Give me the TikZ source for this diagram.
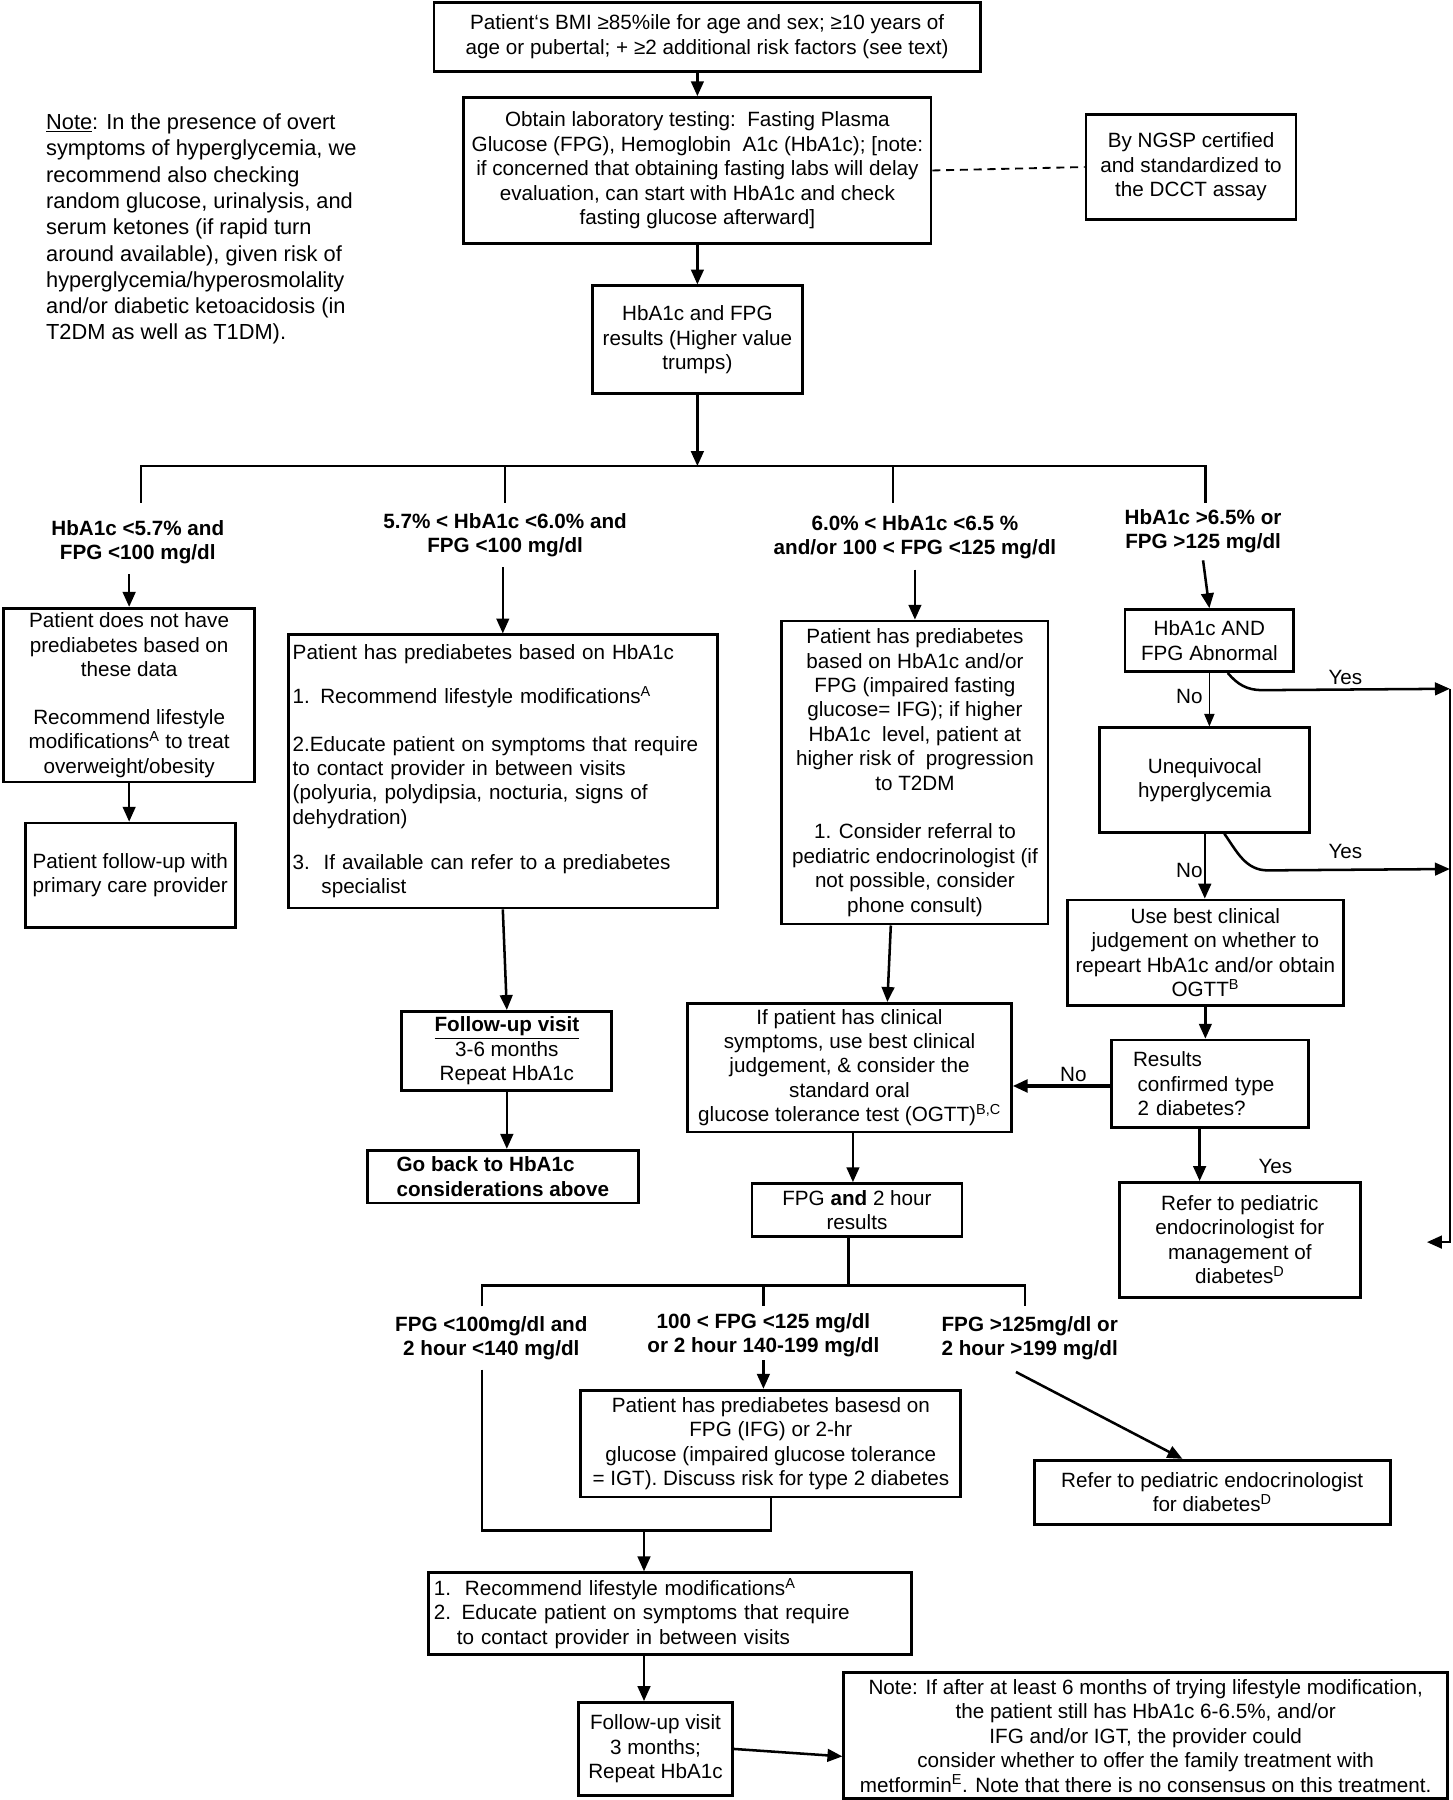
\documentclass[tikz,border=0pt]{standalone}
\usepackage{fontspec}
\setmainfont{Liberation Sans}
\usetikzlibrary{arrows.meta}
\newcommand{\bxfont}{\fontsize{18}{21.3}\selectfont}
\newcommand{\lbfont}{\fontsize{18}{21}\selectfont\bfseries}
\newcommand{\ntfont}{\fontsize{19}{22.9}\selectfont}
\tikzset{
  box/.style={draw, line width=2.4pt, inner sep=4pt, font=\bxfont, align=center},
  lbl/.style={font=\lbfont, align=center, inner sep=0pt},
  ans/.style={font=\bxfont, inner sep=0pt},
  conn/.style={line width=2.2pt},
  arr/.style={conn, -{Triangle[length=13pt,width=11pt]}},
  thin arr/.style={line width=1pt, -{Triangle[length=11pt,width=9pt]}}
}
\begin{document}
\begin{tikzpicture}[x=1pt,y=-1pt]
\useasboundingbox (0,0) rectangle (1265,1568);

\node[anchor=north west, font=\ntfont, align=left, inner sep=0pt] (note) at (40,99)
  {\underline{Note}: In the presence of overt\\symptoms of hyperglycemia, we\\recommend also checking\\random glucose, urinalysis, and\\serum ketones (if rapid turn\\around available), given risk of\\hyperglycemia/hyperosmolality\\and/or diabetic ketoacidosis (in\\T2DM as well as T1DM).};

\node[box, minimum width=476pt, minimum height=60pt] (bmi) at (616,32)
  {Patient‘s BMI ≥85\%ile for age and sex; ≥10 years of\\age or pubertal; + ≥2 additional risk factors (see text)};
\node[box, minimum width=407pt, minimum height=127pt] (lab) at (607.5,148.5)
  {Obtain laboratory testing:\ \ Fasting Plasma\\Glucose (FPG), Hemoglobin\ \ A1c (HbA1c); [note:\\if concerned that obtaining fasting labs will delay\\evaluation, can start with HbA1c and check\\fasting glucose afterward]};
\node[box, minimum width=183pt, minimum height=91pt] (ngsp) at (1037.5,145.5)
  {By NGSP certified\\and standardized to\\the DCCT assay};
\node[box, minimum width=183pt, minimum height=94pt] (res) at (607.5,296)
  {HbA1c and FPG\\results (Higher value\\trumps)};

\node[lbl] (L1) at (120,472) {HbA1c <5.7\% and\\FPG <100 mg/dl};
\node[lbl] (L2) at (440,466) {5.7\% < HbA1c <6.0\% and\\FPG <100 mg/dl};
\node[lbl] (L3) at (797,468) {6.0\% < HbA1c <6.5 \%\\and/or 100 < FPG <125 mg/dl};
\node[lbl] (L4) at (1048,463) {HbA1c >6.5\% or\\FPG >125 mg/dl};

\node[box, minimum width=219pt, minimum height=151pt] (nopre) at (112.5,605.5)
  {Patient does not have\\prediabetes based on\\these data\\[20pt]Recommend lifestyle\\modifications\textsuperscript{A} to treat\\overweight/obesity};
\node[box, minimum width=183pt, minimum height=91pt] (pcp) at (113.5,762.5)
  {Patient follow-up with\\primary care provider};
\node[box, align=left, text width=366pt, minimum height=238pt] (prea1c) at (438,672)
  {Patient has prediabetes based on HbA1c\\[17pt]1. Recommend lifestyle modifications\textsuperscript{A}\\[20pt]2.Educate patient on symptoms that require\\to contact provider in between visits\\(polyuria, polydipsia, nocturia, signs of\\dehydration)\\[18pt]3.\ \ If available can refer to a prediabetes\\\hspace*{25pt}specialist};
\node[box, minimum width=183pt, minimum height=69pt] (fuA) at (441.5,915.5)
  {\textbf{\underline{Follow-up visit}}\\3-6 months\\Repeat HbA1c};
\node[box, align=left, font=\bxfont\bfseries, minimum width=236pt, minimum height=46pt] (back) at (438,1025)
  {Go back to HbA1c\\considerations above};

\node[box, minimum width=232pt, minimum height=264pt] (pre2) at (797,673)
  {Patient has prediabetes\\based on HbA1c and/or\\FPG (impaired fasting\\glucose= IFG); if higher\\HbA1c\ \ level, patient at\\higher risk of\ \ progression\\to T2DM\\[21pt]1. Consider referral to\\pediatric endocrinologist (if\\not possible, consider\\phone consult)};
\node[box, minimum width=282pt, minimum height=112pt] (ogtt) at (740,930)
  {If patient has clinical\\symptoms, use best clinical\\judgement, \& consider the\\standard oral\\glucose tolerance test (OGTT)\textsuperscript{B,C}};

\node[box, minimum width=147pt, minimum height=54pt] (abn) at (1053.5,558)
  {HbA1c AND\\FPG Abnormal};
\node[box, minimum width=183pt, minimum height=91pt] (uneq) at (1049.5,679.5)
  {Unequivocal\\hyperglycemia};
\node[box, minimum width=240pt, minimum height=92pt, inner sep=2pt] (judge) at (1050,830)
  {Use best clinical\\judgement on whether to\\repeart HbA1c and/or obtain\\OGTT\textsuperscript{B}};
\node[box, align=left, text width=134pt, inner xsep=19pt, minimum height=76pt] (conf) at (1054,944)
  {Results\\\hspace*{4pt}confirmed type\\\hspace*{4pt}2 diabetes?};
\node[box, minimum width=210pt, minimum height=100pt] (refer) at (1080,1080)
  {Refer to pediatric\\endocrinologist for\\management of\\diabetes\textsuperscript{D}};

\node[box, minimum width=183pt, minimum height=46pt] (fpg2) at (746.5,1054)
  {FPG \textbf{and} 2 hour\\results};
\node[lbl] (M1) at (428,1166) {FPG <100mg/dl and\\2 hour <140 mg/dl};
\node[lbl] (M2) at (665,1163) {100 < FPG <125 mg/dl\\or 2 hour 140-199 mg/dl};
\node[lbl] (M3) at (897,1166) {FPG >125mg/dl or\\2 hour >199 mg/dl};
\node[box, minimum width=331pt, minimum height=93pt] (preFPG) at (671.5,1257.5)
  {Patient has prediabetes basesd on\\FPG (IFG) or 2-hr\\glucose (impaired glucose tolerance\\= IGT). Discuss risk for type 2 diabetes};
\node[box, minimum width=310pt, minimum height=56pt] (refdiab) at (1056,1300)
  {Refer to pediatric endocrinologist\\for diabetes\textsuperscript{D}};
\node[box, align=left, text width=411pt, inner xsep=5pt, minimum height=71pt] (life) at (583.5,1405.5)
  {1.\ \ Recommend lifestyle modifications\textsuperscript{A}\\2. Educate patient on symptoms that require\\\hspace*{20pt}to contact provider in between visits};
\node[box, minimum width=134pt, minimum height=81pt] (fuB) at (571,1523.5)
  {Follow-up visit\\3 months;\\Repeat HbA1c};
\node[box, minimum width=526pt, minimum height=110pt] (metf) at (998,1512)
  {Note: If after at least 6 months of trying lifestyle modification,\\the patient still has HbA1c 6-6.5\%, and/or\\IFG and/or IGT, the provider could\\consider whether to offer the family treatment with\\metformin\textsuperscript{E}. Note that there is no consensus on this treatment.};

\node[ans] (yesA) at (1172,590) {Yes};
\node[ans] (noA) at (1036,607) {No};
\node[ans] (yesB) at (1172,742) {Yes};
\node[ans] (noB) at (1036,758) {No};
\node[ans] (noC) at (935,936) {No};
\node[ans] (yesC) at (1111,1016) {Yes};

\coordinate (hub) at (607.5,406);
\coordinate (hA) at (123,406);
\coordinate (hB) at (440,406);
\coordinate (hC) at (778,406);
\coordinate (hD) at (1050,406);
\coordinate (rA) at (1263,600);
\coordinate (rB) at (1263,757);
\coordinate (rtn) at (1243,1082);
\coordinate (kA) at (420,1120);
\coordinate (kB) at (665,1120);
\coordinate (kC) at (893,1120);
\coordinate (jn) at (671.5,1333);
\coordinate (jx) at (561,1333);

\draw[arr] (bmi.south -| lab.north) -- (lab.north);
\draw[dashed, dash pattern=on 7pt off 5pt, line width=1.6pt] (lab.east) -- (ngsp.west);
\draw[arr] (lab) -- (res);
\draw[arr] (res) -- (hub);
\draw[conn] ([yshift=-32pt]hA) -- (hA) -- (hD) -- ([yshift=-32pt]hD);
\foreach \c in {hB,hC} \draw[conn] (\c) -- ++(0,32);

\draw[arr] ([yshift=-9pt]L1.south -| nopre.north) -- (nopre.north);
\draw[arr] ([yshift=-9pt]L2.south -| prea1c.north) -- (prea1c.north);
\draw[arr] ([yshift=-9pt]L3.south) -- (L3.south |- pre2.north);
\draw[arr] ([yshift=-6pt]L4.south) -- (abn.north);

\draw[arr] (nopre) -- (nopre |- pcp.north);
\draw[arr] (prea1c.south) -- (fuA.north);
\draw[arr] (fuA) -- (fuA |- back.north);
\draw[arr] ([xshift=-21pt]pre2.south) -- ([xshift=33pt]ogtt.north);
\draw[arr] ([xshift=3pt]ogtt.south) -- ([xshift=-3.5pt]fpg2.north);

\draw[thin arr] (abn.south) -- (abn.south |- uneq.north);
\draw[arr] ([xshift=16pt]abn.south) to[out=-50,in=180] ++(30,15) -- (rA);
\draw[arr] ([xshift=17pt]uneq.south) to[out=-55,in=180] ++(38,32) -- (rB);
\draw[arr] (rA) |- (rtn);
\draw[arr] (uneq.south) -- (uneq.south |- judge.north);
\draw[arr] (judge.south) -- (judge.south |- conf.north);
\draw[arr, line width=3pt] ([yshift=-2pt]conf.west) -- ([yshift=-2pt]conf.west -| ogtt.east);
\draw[arr] ([xshift=-9pt]conf.south) -- ([xshift=-9pt]conf.south |- refer.north);

\draw[conn] ([xshift=-7.5pt]fpg2.south) -- ([xshift=-7.5pt]fpg2.south |- kA);
\draw[conn] ([yshift=-18pt]kA) -- (kA) -- (kC) -- ([yshift=-18pt]kC);
\draw[conn] (kB) -- ++(0,18);
\draw[arr] ([yshift=-3pt]M2.south) -- (M2.south |- preFPG.north);
\draw[conn] ([yshift=-8pt]M1.south -| kA) |- (jn) -- (preFPG.south);
\draw[arr] (jx) -- (jx |- life.north);
\draw[arr] ([xshift=-12pt,yshift=-10pt]M3.south) -- ([xshift=-26pt]refdiab.north);
\draw[arr] (jx |- life.south) -- (jx |- fuB.north);
\draw[arr] (fuB.east) -- ([yshift=-18pt]metf.west);
\end{tikzpicture}
\end{document}
